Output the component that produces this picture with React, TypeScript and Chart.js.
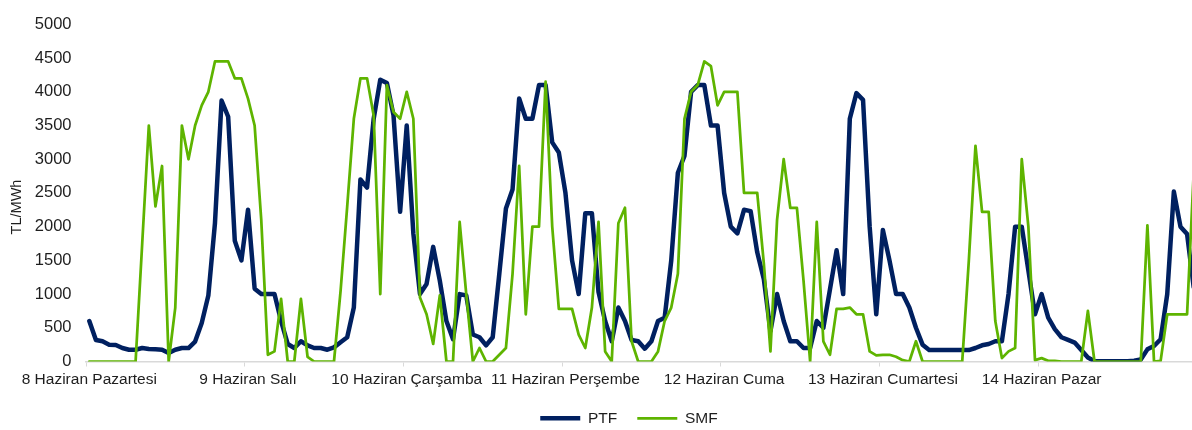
import { useEffect, useRef } from 'react';
import { Chart, registerables } from 'chart.js';

Chart.register(...registerables);

// ---- Data ----
const DAY_LABELS = [
  '8 Haziran Pazartesi',
  '9 Haziran Salı',
  '10 Haziran Çarşamba',
  '11 Haziran Perşembe',
  '12 Haziran Cuma',
  '13 Haziran Cumartesi',
  '14 Haziran Pazar',
];
const HOURS_PER_DAY = 24;
const SERIES_NAMES = ['PTF', 'SMF'];
const Y_TITLE = 'TL/MWh';
const Y_MIN = 0;
const Y_MAX = 5000;
const Y_STEP = 500;

// PTF hourly (TL/MWh)
const PTF = [
  600, 320, 300, 250, 245, 200, 175, 175, 200, 185, 180, 175, 125, 175, 200, 200, 295, 570, 980, 2050, 3870, 3630, 1790, 1500,
  2250, 1080, 1000, 1000, 1000, 600, 260, 200, 300, 240, 200, 200, 175, 210, 285, 360, 800, 2700, 2580, 3600, 4180, 4130, 3650, 2220,
  3500, 1900, 1000, 1150, 1700, 1200, 600, 330, 1000, 980, 400, 360, 240, 360, 1300, 2270, 2550, 3900, 3600, 3600, 4100, 4100, 3250, 3100,
  2500, 1500, 1000, 2200, 2200, 1030, 600, 300, 800, 600, 320, 300, 190, 300, 600, 650, 1500, 2800, 3050, 4000, 4100, 4100, 3500, 3500,
  2500, 2000, 1900, 2250, 2230, 1620, 1220, 450, 1000, 600, 300, 300, 200, 200, 600, 500, 1070, 1650, 1000, 3600, 3980, 3880, 2000, 700,
  1950, 1500, 1000, 1000, 800, 500, 250, 170, 170, 170, 170, 170, 170, 170, 200, 240, 260, 300, 300, 1000, 2000, 2000, 1350, 700,
  1000, 650, 480, 360, 320, 280, 170, 60, 5, 5, 5, 5, 5, 5, 10, 30, 180, 230, 330, 1000, 2520, 2000, 1890, 1100,
];

// SMF hourly (TL/MWh)
const SMF = [
  0, 0, 0, 0, 0, 0, 0, 0, 1750, 3500, 2300, 2900, 0, 800, 3500, 3000, 3500, 3800, 4000, 4450, 4450, 4450, 4200, 4200,
  3900, 3500, 2100, 100, 150, 930, 0, 0, 930, 70, 0, 0, 0, 0, 1050, 2300, 3600, 4200, 4200, 3650, 1000, 4100, 3700, 3600,
  4000, 3600, 950, 700, 260, 980, 0, 0, 2070, 1000, 0, 200, 0, 0, 100, 200, 1300, 2900, 700, 2000, 2000, 4150, 2000, 780,
  780, 780, 400, 200, 800, 2070, 150, 0, 2050, 2280, 300, 0, 0, 0, 150, 600, 800, 1300, 3600, 4000, 4100, 4450, 4380, 3800,
  4000, 4000, 4000, 2500, 2500, 2500, 1450, 150, 2100, 3000, 2280, 2280, 1200, 0, 2070, 300, 100, 780, 780, 800, 700, 700, 150, 90,
  100, 100, 70, 20, 0, 300, 0, 0, 0, 0, 0, 0, 0, 1500, 3200, 2220, 2220, 600, 50, 150, 200, 3000, 2000, 20,
  50, 10, 10, 0, 0, 0, 0, 750, 0, 0, 0, 0, 0, 0, 0, 0, 2020, 0, 10, 700, 700, 700, 700, 2800,
];

const LABELS = PTF.map((_, i) => (i % HOURS_PER_DAY === 0 ? DAY_LABELS[i / HOURS_PER_DAY] : ''));

// ---- Styles ----
const PTF_COLOR = '#002060';
const SMF_COLOR = '#5EB400';
const TEXT_COLOR = '#1e1e1e';
const AXIS_COLOR = '#d9d9d9';
const FONT_FAMILY = '"Liberation Sans", Arial, Helvetica, sans-serif';

const yTitlePlugin = {
  id: 'yTitle',
  afterDraw(chart: any) {
    const { ctx } = chart;
    ctx.save();
    ctx.translate(17, 207);
    ctx.rotate(-Math.PI / 2);
    ctx.font = `14.5px ${FONT_FAMILY}`;
    ctx.fillStyle = TEXT_COLOR;
    ctx.textAlign = 'center';
    ctx.textBaseline = 'middle';
    ctx.fillText(Y_TITLE, 0, 0);
    ctx.restore();
  },
};

const legendShiftPlugin = {
  id: 'legendShift',
  afterLayout(chart: any) {
    const lg = chart.legend;
    if (lg) {
      lg.left += 30.5;
      lg.right += 30.5;
    }
  },
};

export default function App() {
  const canvasRef = useRef<HTMLCanvasElement | null>(null);

  useEffect(() => {
    if (!canvasRef.current) return;
    const chart = new Chart(canvasRef.current, {
      type: 'line',
      data: {
        labels: LABELS,
        datasets: [
          {
            label: SERIES_NAMES[0],
            data: PTF,
            borderColor: PTF_COLOR,
            backgroundColor: PTF_COLOR,
            borderWidth: 4.5,
            pointRadius: 0,
            pointHoverRadius: 0,
            pointBorderWidth: 4.5,
            pointBorderColor: PTF_COLOR,
            pointStyle: 'line',
            tension: 0,
            borderJoinStyle: 'round',
            borderCapStyle: 'round',
            order: 1,
          },
          {
            label: SERIES_NAMES[1],
            data: SMF,
            borderColor: SMF_COLOR,
            backgroundColor: SMF_COLOR,
            borderWidth: 2.75,
            pointRadius: 0,
            pointHoverRadius: 0,
            pointBorderWidth: 2.75,
            pointBorderColor: SMF_COLOR,
            pointStyle: 'line',
            tension: 0,
            borderJoinStyle: 'round',
            borderCapStyle: 'round',
            order: 0,
          },
        ],
      },
      options: {
        responsive: false,
        animation: false,
        layout: { padding: { top: 13, left: 0, right: 3, bottom: 0 } },
        plugins: {
          legend: {
            position: 'bottom',
            labels: {
              usePointStyle: true,
              pointStyleWidth: 40,
              padding: 20,
              color: TEXT_COLOR,
              font: { family: FONT_FAMILY, size: 15.5 },
              sort: (a: any, b: any) => a.datasetIndex - b.datasetIndex,
            },
          },
          tooltip: { enabled: false },
        },
        scales: {
          x: {
            type: 'category',
            offset: true,
            grid: {
              display: true,
              offset: true,
              drawOnChartArea: false,
              drawTicks: true,
              tickLength: 5,
              lineWidth: 1,
              color: (ctx: any) => (ctx.index % HOURS_PER_DAY === 0 ? AXIS_COLOR : 'rgba(0,0,0,0)'),
            },
            border: { display: true, color: AXIS_COLOR, width: 1.5 },
            ticks: {
              autoSkip: false,
              maxRotation: 0,
              minRotation: 0,
              padding: 4,
              color: TEXT_COLOR,
              font: { family: FONT_FAMILY, size: 15.5 },
            },
            afterFit: (s: any) => {
              s.height = 29;
            },
          },
          y: {
            min: Y_MIN,
            max: Y_MAX,
            ticks: {
              stepSize: Y_STEP,
              padding: 14.5,
              color: TEXT_COLOR,
              font: { family: FONT_FAMILY, size: 16.5 },
              callback: (v: any) => String(v),
            },
            grid: { display: false, drawTicks: false },
            border: { display: false },
            afterFit: (s: any) => {
              s.width = 86;
            },
          },
        },
      },
      plugins: [yTitlePlugin, legendShiftPlugin],
    } as any);
    return () => chart.destroy();
  }, []);

  return (
    <div
      style={{
        position: 'fixed',
        left: 0,
        top: 0,
        width: 1192,
        height: 430,
        overflow: 'hidden',
        background: '#ffffff',
      }}
    >
      <canvas ref={canvasRef} width={1200} height={436} style={{ width: 1200, height: 436, display: 'block' }} />
    </div>
  );
}
